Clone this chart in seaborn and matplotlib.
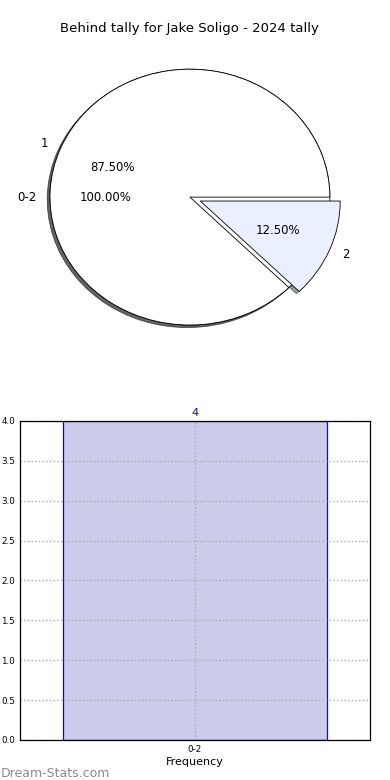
import matplotlib
matplotlib.use("Agg")
import matplotlib.pyplot as plt
import seaborn as sns

# -------------------------------------------------------- #
title = "Behind tally for Jake Soligo - 2024 tally"

outer_labels = ["0-2"]
outer_values = [100]

inner_labels = ["1", "2"]
inner_values = [7, 1]

bar_categories = ["0-2"]
bar_values = [4]

yticks = [0.0, 0.5, 1.0, 1.5, 2.0, 2.5, 3.0, 3.5, 4.0]

# -------------------------------------------------------- #
sns.set_style("white")
plt.rcParams["font.family"] = ["DejaVu Sans"]
plt.rcParams["text.color"] = "black"
plt.rcParams["axes.labelcolor"] = "black"
plt.rcParams["xtick.color"] = "black"
plt.rcParams["ytick.color"] = "black"

fig = plt.figure(figsize=(3.9, 7.8), dpi=100)
ax1 = fig.add_axes([0.0385, 0.5423, 0.897, 0.410])
ax2 = fig.add_axes([0.0513, 0.0513, 0.897, 0.409])

wp = dict(edgecolor="black", linewidth=0.6)
shadow = dict(ox=-0.014, oy=-0.014, shade=0.8)

# big pie underneath (single category)
ax1.pie(
    outer_values,
    labels=outer_labels,
    colors=["white"],
    autopct="%.2f%%",
    shadow=shadow,
    startangle=0,
    wedgeprops=wp,
    textprops=dict(fontsize=8.5),
)

# pie with the split on top
ax1.pie(
    inner_values,
    labels=inner_labels,
    colors=["white", "#eaf0ff"],
    explode=[0, 0.08],
    autopct="%.2f%%",
    shadow=shadow,
    startangle=0,
    wedgeprops=wp,
    textprops=dict(fontsize=8.5),
)
ax1.set_aspect("auto")
ax1.set_xlim(-1.25, 1.25)
ax1.set_ylim(-1.25, 1.25)
ax1.set_title(title, fontsize=9.5, pad=4)

# -------------------------------------------------------- #
sns.barplot(
    x=bar_categories,
    y=bar_values,
    color="#ccccea",
    saturation=1,
    edgecolor="#1010a0",
    linewidth=0.9,
    width=0.8,
    ax=ax2,
)
ax2.bar_label(ax2.containers[0], color="#1010a0", fontsize=8, padding=2)
ax2.set_xlim(-0.53, 0.53)
ax2.set_ylim(0, 4)
ax2.set_yticks(yticks)
ax2.set_yticklabels([f"{t:.1f}" for t in yticks])
ax2.tick_params(axis="both", labelsize=6.3, length=2, pad=1.5, color="#aaaaaa", direction="out")
ax2.set_xlabel("Frequency", fontsize=8, labelpad=2)
ax2.grid(True, linestyle=":", color="#aaaaaa", linewidth=1)
ax2.set_axisbelow(False)
for s in ax2.spines.values():
    s.set_color("black")
    s.set_linewidth(0.9)
    s.set_zorder(5)

fig.text(0.003, 0.004, "Dream-Stats.com", color="#8a8a8a", fontsize=9)

# -------------------------------------------------------- #
plt.savefig("out.png", dpi=100)
